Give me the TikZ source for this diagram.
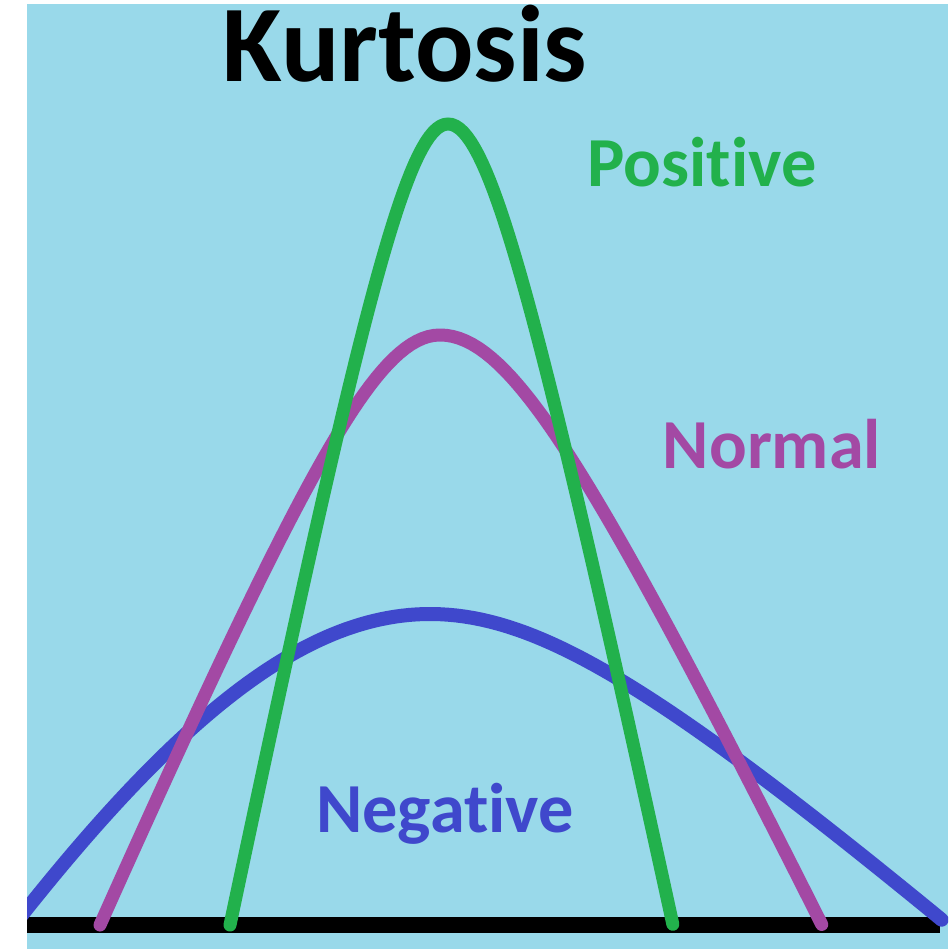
\documentclass[tikz,border=0pt]{standalone}
\usepackage{fontspec}
\setmainfont{Carlito}[Ligatures=NoCommon]
\definecolor{skybg}{HTML}{99D9EA}
\definecolor{kgreen}{HTML}{22B14C}
\definecolor{kpurple}{HTML}{A349A4}
\definecolor{kindigo}{HTML}{3F48CC}

\begin{document}
\begin{tikzpicture}[
  x=0.02cm, y=-0.02cm,
  declare function={bell(\u,\a)=(sqrt(\u*\u+\a*\a)-\a)/(sqrt(1+\a*\a)-\a);},
  curve/.style={line width=0.26cm, line cap=round, line join=round},
  lbl/.style={font=\bfseries\fontsize{40}{48}\selectfont, anchor=base},
]
\useasboundingbox (0,0) rectangle (948,949);

% Background
\fill[white] (0,0) rectangle (948,949);
\fill[skybg] (27,4) rectangle (948,949);

% Title
\node[lbl, font=\bfseries\fontsize{62}{74}\selectfont, text=black] (title) at (405,82) {Kurtosis};

% ============ Base line ============
\draw[black, line width=0.32cm] (27,925) -- (940,925);

% ============ Curves ============
\begin{scope}
\clip (27,4) rectangle (948,949);
% Negative (flat)
\draw[curve, kindigo, line width=0.28cm]
  plot[domain=-1:0, samples=60] ({430+412*\x}, {614+306*bell(\x,1)})
  -- plot[domain=0:1, samples=60] ({430+512*\x}, {614+306*bell(\x,0.4)});
% Normal
\draw[curve, kpurple]
  plot[domain=-1:0, samples=60] ({440+340*\x}, {335+590*bell(\x,0.3)})
  -- plot[domain=0:1, samples=60] ({440+382*\x}, {335+590*bell(\x,0.3)});
% Positive (peaked)
\draw[curve, kgreen]
  plot[domain=-1:0, samples=60] ({448+218*\x}, {124+801*bell(\x,0.3)})
  -- plot[domain=0:1, samples=60] ({448+225*\x}, {124+801*bell(\x,0.3)});
\end{scope}

% Labels
\node[lbl, text=kgreen] (poslbl) at (702,187) {Positive};
\node[lbl, text=kpurple] (normlbl) at (772,468) {Normal};
\node[lbl, text=kindigo] (neglbl) at (445,832) {Negative};

\end{tikzpicture}
\end{document}
